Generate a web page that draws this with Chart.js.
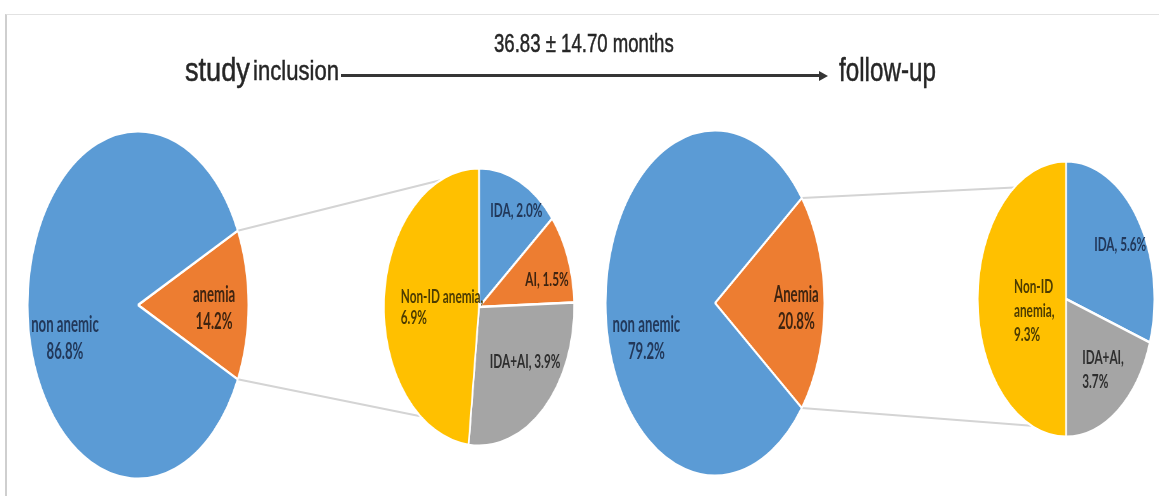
<!DOCTYPE html>
<html>
<head>
<meta charset="utf-8">
<title>Anemia at study inclusion and follow-up</title>
<script src="https://cdn.jsdelivr.net/npm/chart.js@4.4.1/dist/chart.umd.min.js"></script>
<style>
  html, body { margin: 0; padding: 0; background: #fff; overflow: hidden; }
  #stage { position: relative; width: 1159px; height: 496px; overflow: hidden; background: #fff; }
  #frame { position: absolute; left: 5px; top: 14px; width: 1200px; height: 520px;
           border-left: 2px solid #cfcfcf; border-top: 1px solid #e2e2e2; }
  .pie { position: absolute; z-index: 2; }
  #links, #labels { position: absolute; left: 0; top: 0; }
  #links { z-index: 1; }
  #labels { z-index: 3; }
  .ttl { position: absolute; font-family: "Liberation Sans", Arial, sans-serif; color: #262626;
         line-height: 1; white-space: nowrap; transform-origin: 0 0; z-index: 4;
         -webkit-text-stroke: 0.5px #262626; }
  #arrowLine { position: absolute; left: 341px; top: 74px; width: 480px; height: 3px; background: #353535; z-index: 4; }
  #arrowHead { position: absolute; left: 819px; top: 70.5px; width: 0; height: 0; z-index: 4;
               border-left: 9px solid #353535; border-top: 5px solid transparent; border-bottom: 5px solid transparent; }
</style>
</head>
<body>
<div id="stage">
  <div id="frame"></div>
  <canvas id="links" width="1159" height="496"></canvas>
  <canvas id="labels" width="1159" height="496"></canvas>
  <div id="interval" class="ttl"></div>
  <div id="startWord" class="ttl"></div>
  <div id="startWord2" class="ttl"></div>
  <div id="endWord" class="ttl"></div>
  <div id="arrowLine"></div>
  <div id="arrowHead"></div>
</div>
<script>
// ---- data: share of patients (%) ----
const inclusionCategories = ['anemia', 'non anemic'];
const inclusionValues = [14.2, 86.8];
const inclusionSubCategories = ['IDA', 'AI', 'IDA+AI', 'Non-ID anemia'];
const inclusionSubValues = [2.0, 1.5, 3.9, 6.9];

const followupCategories = ['Anemia', 'non anemic'];
const followupValues = [20.8, 79.2];
const followupSubCategories = ['IDA', 'IDA+AI', 'Non-ID anemia'];
const followupSubValues = [5.6, 3.7, 9.3];

const intervalLabel = '36.83 ± 14.70 months';
const startLabels = ['study', 'inclusion'];
const endLabel = 'follow-up';

// ---- palette ----
const BLUE = '#5b9bd5', ORANGE = '#ed7d31', GREY = '#a5a5a5', GOLD = '#ffc000';
const INK = { [BLUE]: '#22385a', [ORANGE]: '#3f2410', [GREY]: '#2e2e2e', [GOLD]: '#4d3c00' };

// ---- geometry of each pie (ellipse centre and radii in page pixels) and label styling ----
const geoIncMain = { cx: 138, cy: 305, rx: 111, ry: 175 };
const geoIncSub  = { cx: 479, cy: 307, rx: 96,  ry: 140 };
const geoFupMain = { cx: 715, cy: 303, rx: 110, ry: 174 };
const geoFupSub  = { cx: 1066, cy: 299, rx: 89, ry: 139 };

const styleIncMain = { font: 22, cond: 0.6, lineH: 27, items: [
  { f: 0.69, dx: 0, dy: 3,  wrap: 'two', align: 'center' },
  { f: 0.69, dx: 3, dy: 33, wrap: 'two', align: 'center' } ] };
const styleFupMain = { font: 22, cond: 0.6, lineH: 27, items: [
  { f: 0.745, dx: 0, dy: 5, wrap: 'two', align: 'center' },
  { f: 0.5,  dx: -14, dy: 35, wrap: 'two', align: 'center' } ] };
const styleIncSub = { font: 19, cond: 0.62, lineH: 21, items: [
  { f: 0.8,  dx: 5, dy: 4,  wrap: 'one', align: 'center' },
  { f: 0.73, dx: 3, dy: 9,  wrap: 'one', align: 'center' },
  { f: 0.62, dx: 6, dy: -8, wrap: 'one', align: 'center' },
  { f: 0.41, dx: 2, dy: 3,  wrap: 'comma', align: 'left' } ] };
const styleFupSub = { font: 19, cond: 0.62, lineH: 24, items: [
  { f: 0.73, dx: 2, dy: 5,  wrap: 'one', align: 'center' },
  { f: 0.66, dx: 3, dy: -3, wrap: 'comma', align: 'left' },
  { f: 0.36, dx: 0, dy: 12, wrap: 'words', align: 'left' } ] };

// where the series lines meet the secondary pie (degrees clockwise from 12 o'clock)
const linkEndsInc = [336, 218];
const linkEndsFup = [324, 203];

const stage = document.getElementById('stage');

function buildPie(geo, labels, values, colors, rotation) {
  const pad = 3;
  const size = Math.round(2 * geo.ry + 2 * pad);
  const sx = geo.rx / geo.ry;
  const cv = document.createElement('canvas');
  cv.className = 'pie';
  cv.width = size;
  cv.height = size;
  const w = size * sx;
  const left = geo.cx - w / 2, top = geo.cy - size / 2;
  cv.style.width = w + 'px';
  cv.style.height = size + 'px';
  cv.style.left = left + 'px';
  cv.style.top = top + 'px';
  stage.appendChild(cv);
  const chart = new Chart(cv, {
    type: 'pie',
    data: { labels, datasets: [{ data: values, backgroundColor: colors, borderColor: '#ffffff',
                                 borderWidth: 2.5, hoverOffset: 0 }] },
    options: {
      responsive: false, animation: false, events: [], rotation,
      layout: { padding: pad },
      plugins: { legend: { display: false }, tooltip: { enabled: false } }
    }
  });
  return { chart, sx, left, top, labels, values, colors };
}

// split the primary slice so the highlighted share is centred on 3 o'clock
function centredRotation(values) {
  const sum = values.reduce((a, b) => a + b, 0);
  return 90 - (values[0] / sum) * 180;
}

const incMain = buildPie(geoIncMain, inclusionCategories, inclusionValues, [ORANGE, BLUE], centredRotation(inclusionValues));
const incSub  = buildPie(geoIncSub, inclusionSubCategories, inclusionSubValues, [BLUE, ORANGE, GREY, GOLD], 0);
const fupMain = buildPie(geoFupMain, followupCategories, followupValues, [ORANGE, BLUE], centredRotation(followupValues));
const fupSub  = buildPie(geoFupSub, followupSubCategories, followupSubValues, [BLUE, GREY, GOLD], 0);

function arcOf(p, i) {
  return p.chart.getDatasetMeta(0).data[i].getProps(['x', 'y', 'startAngle', 'endAngle', 'outerRadius'], true);
}
function toPage(p, x, y) {
  return [p.left + x * p.sx, p.top + y];
}

// ---- series lines from the split slice to the secondary pie ----
const lctx = document.getElementById('links').getContext('2d');
function drawLinks(main, sub, ends) {
  const a = arcOf(main, 0);
  const b = arcOf(sub, 0);
  const starts = [a.startAngle, a.endAngle].map(t => toPage(main, a.x + a.outerRadius * Math.cos(t), a.y + a.outerRadius * Math.sin(t)));
  const stops = ends.map(deg => {
    const t = (deg - 90) * Math.PI / 180;
    return toPage(sub, b.x + b.outerRadius * Math.cos(t), b.y + b.outerRadius * Math.sin(t));
  });
  lctx.strokeStyle = '#d4d4d4';
  lctx.lineWidth = 2;
  for (let k = 0; k < 2; k++) {
    lctx.beginPath();
    lctx.moveTo(starts[k][0], starts[k][1]);
    lctx.lineTo(stops[k][0], stops[k][1]);
    lctx.stroke();
  }
}
drawLinks(incMain, incSub, linkEndsInc);
drawLinks(fupMain, fupSub, linkEndsFup);

// ---- data labels ----
const tctx = document.getElementById('labels').getContext('2d');
function labelLines(name, value, wrap) {
  const v = value.toFixed(1) + '%';
  if (wrap === 'two') return [name, v];
  if (wrap === 'one') return [name + ', ' + v];
  if (wrap === 'comma') return [name + ',', v];
  const words = name.split(' ');
  words[words.length - 1] += ',';
  return words.concat([v]);
}
function drawLabels(p, style) {
  tctx.font = 'bold ' + style.font + 'px Lato, "Open Sans", sans-serif';
  tctx.textBaseline = 'middle';
  style.items.forEach((it, i) => {
    const a = arcOf(p, i);
    const mid = (a.startAngle + a.endAngle) / 2;
    const r = a.outerRadius * it.f;
    const [px, py] = toPage(p, a.x + r * Math.cos(mid), a.y + r * Math.sin(mid));
    const ax = px + it.dx, ay = py + it.dy;
    const lines = labelLines(p.labels[i], p.values[i], it.wrap);
    const widths = lines.map(s => tctx.measureText(s).width * style.cond);
    const blockW = Math.max(...widths);
    tctx.fillStyle = INK[p.colors[i]];
    lines.forEach((s, k) => {
      const y = ay + (k - (lines.length - 1) / 2) * style.lineH;
      const x = it.align === 'left' ? ax - blockW / 2 : ax - widths[k] / 2;
      tctx.save();
      tctx.translate(x, y);
      tctx.scale(style.cond, 1);
      tctx.fillText(s, 0, 0);
      tctx.restore();
    });
  });
}
drawLabels(incMain, styleIncMain);
drawLabels(fupMain, styleFupMain);
drawLabels(incSub, styleIncSub);
drawLabels(fupSub, styleFupSub);

// ---- heading: time line from inclusion to follow-up ----
function placeText(id, text, fs, left, baseline, width) {
  const el = document.getElementById(id);
  el.textContent = text;
  el.style.fontSize = fs + 'px';
  el.style.left = left + 'px';
  el.style.top = (baseline - 0.8465 * fs) + 'px';
  el.style.transform = 'scaleX(' + (width / el.offsetWidth) + ')';
}
placeText('interval', intervalLabel, 25, 494, 52, 180);
placeText('startWord', startLabels[0], 33, 185, 81, 65);
placeText('startWord2', startLabels[1], 28, 253, 81, 86);
placeText('endWord', endLabel, 34, 839, 81, 97);
</script>
</body>
</html>
